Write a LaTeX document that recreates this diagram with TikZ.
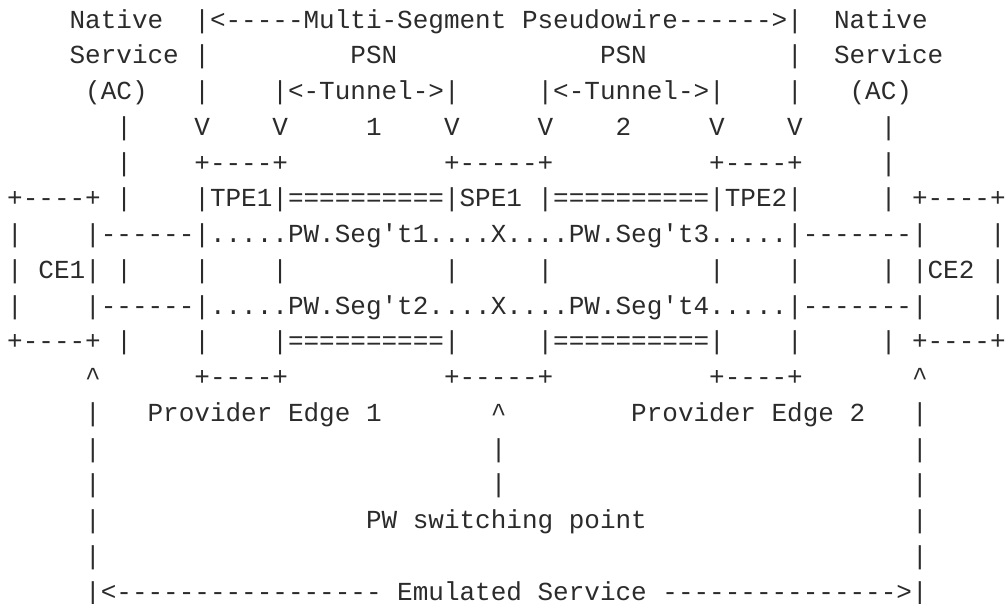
\documentclass[tikz,border=0pt]{standalone}
\usepackage{fontspec}
\setmonofont{Liberation Mono}
\definecolor{ink}{HTML}{2B2B2B}
\tikzset{txt/.style={anchor=base west, inner sep=0pt, outer sep=0pt, text=ink,
  font=\ttfamily\fontsize{26}{26}\selectfont}}
% row, column, text
\newcommand\fr[3]{\node[txt] (r#1c#2) at ({7.2+#2*15.6},{-(28+(#1-1)*35.75)}) {#3};}
\begin{document}
\begin{tikzpicture}[x=1pt,y=1pt]
\useasboundingbox (0,0) rectangle (1008,-603);
% row 1
\fr{1}{4}{Native}
\fr{1}{12}{|<-----Multi-Segment Pseudowire------>|}
\fr{1}{53}{Native}
% row 2
\fr{2}{4}{Service |}
\fr{2}{22}{PSN}
\fr{2}{38}{PSN}
\fr{2}{50}{|}
\fr{2}{53}{Service}
% row 3
\fr{3}{5}{(AC)}
\fr{3}{12}{|}
\fr{3}{17}{|<-Tunnel->|}
\fr{3}{34}{|<-Tunnel->|}
\fr{3}{50}{|}
\fr{3}{54}{(AC)}
% row 4
\fr{4}{7}{|}
\fr{4}{12}{V}
\fr{4}{17}{V}
\fr{4}{23}{1}
\fr{4}{28}{V}
\fr{4}{34}{V}
\fr{4}{39}{2}
\fr{4}{45}{V}
\fr{4}{50}{V}
\fr{4}{56}{|}
% row 5
\fr{5}{7}{|}
\fr{5}{12}{+----+}
\fr{5}{28}{+-----+}
\fr{5}{45}{+----+}
\fr{5}{56}{|}
% row 6
\fr{6}{0}{+----+ |}
\fr{6}{12}{|TPE1|==========|SPE1 |==========|TPE2|}
\fr{6}{56}{| +----+}
% row 7
\fr{7}{0}{|}
\fr{7}{5}{|------|.....PW.Seg't1....X....PW.Seg't3.....|-------|}
\fr{7}{63}{|}
% row 8
\fr{8}{0}{| CE1| |}
\fr{8}{12}{|}
\fr{8}{17}{|}
\fr{8}{28}{|}
\fr{8}{34}{|}
\fr{8}{45}{|}
\fr{8}{50}{|}
\fr{8}{56}{| |CE2 |}
% row 9
\fr{9}{0}{|}
\fr{9}{5}{|------|.....PW.Seg't2....X....PW.Seg't4.....|-------|}
\fr{9}{63}{|}
% row 10
\fr{10}{0}{+----+ |}
\fr{10}{12}{|}
\fr{10}{17}{|==========|}
\fr{10}{34}{|==========|}
\fr{10}{50}{|}
\fr{10}{56}{| +----+}
% row 11
\fr{11}{5}{\textasciicircum}
\fr{11}{12}{+----+}
\fr{11}{28}{+-----+}
\fr{11}{45}{+----+}
\fr{11}{58}{\textasciicircum}
% row 12
\fr{12}{5}{|}
\fr{12}{9}{Provider Edge 1}
\fr{12}{31}{\textasciicircum}
\fr{12}{40}{Provider Edge 2}
\fr{12}{58}{|}
% row 13
\fr{13}{5}{|}
\fr{13}{31}{|}
\fr{13}{58}{|}
% row 14
\fr{14}{5}{|}
\fr{14}{31}{|}
\fr{14}{58}{|}
% row 15
\fr{15}{5}{|}
\fr{15}{23}{PW switching point}
\fr{15}{58}{|}
% row 16
\fr{16}{5}{|}
\fr{16}{58}{|}
% row 17
\fr{17}{5}{|<----------------- Emulated Service --------------->|}
\end{tikzpicture}
\end{document}
